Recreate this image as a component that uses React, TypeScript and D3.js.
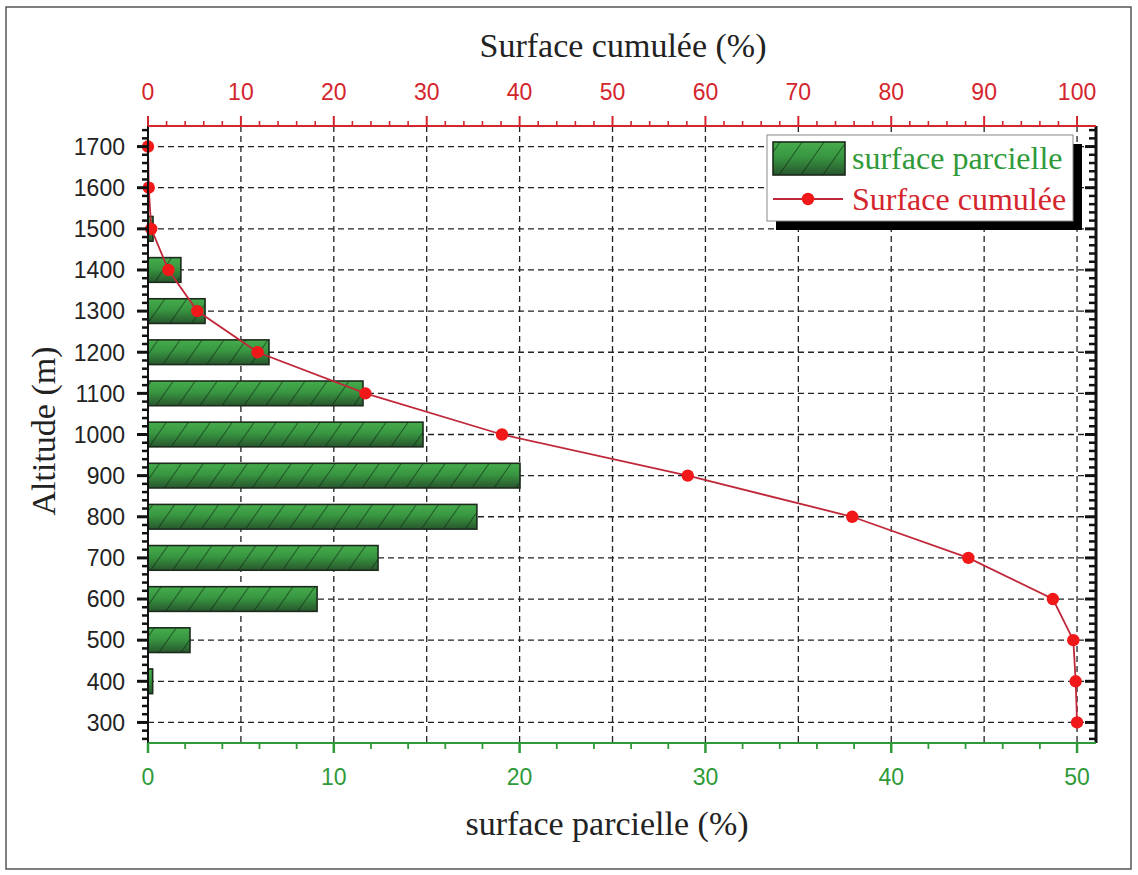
import React from "react";
import * as d3 from "d3";

const altitudes = [300, 400, 500, 600, 700, 800, 900, 1000, 1100, 1200, 1300, 1400, 1500, 1600, 1700];
const partialSurface = [0, 0.25, 2.26, 9.1, 12.38, 17.7, 20.02, 14.8, 11.57, 6.51, 3.07, 1.77, 0.27, 0, 0];
const cumulSurface = [100, 99.85, 99.6, 97.4, 88.3, 75.8, 58.1, 38.1, 23.4, 11.8, 5.3, 2.2, 0.35, 0.08, 0];

const bottomTicks = [0, 10, 20, 30, 40, 50];
const topTicks = [0, 10, 20, 30, 40, 50, 60, 70, 80, 90, 100];
const leftTicks = [300, 400, 500, 600, 700, 800, 900, 1000, 1100, 1200, 1300, 1400, 1500, 1600, 1700];

const W = 1138;
const H = 875;
const L = 148, R = 1096, T = 126, B = 743;

const RED = "#d4242c";
const GREEN = "#2f9a38";
const LINE_RED = "#c0283a";

export default function App() {
  const xB = d3.scaleLinear().domain([0, 51.02]).range([L, R]);
  const xT = d3.scaleLinear().domain([0, 102.04]).range([L, R]);
  const y = d3.scaleLinear().domain([250, 1750]).range([B, T]);

  const topMinor = d3.range(0, 101, 2).filter((v) => v % 10 !== 0);
  const bottomMinor = d3.range(0, 51, 2).filter((v) => v % 10 !== 0);
  const leftMinor = d3.range(260, 1741, 20).filter((v) => v % 100 !== 0);

  const barH = y(0) - y(60);
  const line = d3
    .line<number>()
    .x((_, i) => xT(cumulSurface[i]))
    .y((a) => y(a));

  const sans = "'Liberation Sans', Arial, sans-serif";
  const serif = "'Liberation Serif', 'Times New Roman', serif";

  return (
    <svg width={W} height={H} style={{ position: "absolute", left: 0, top: 0, background: "#fff" }}>
      <defs>
        <linearGradient id="barGrad" x1="0" y1="0" x2="0" y2="1">
          <stop offset="0%" stopColor="#46ad4c" />
          <stop offset="45%" stopColor="#389641" />
          <stop offset="100%" stopColor="#28562d" />
        </linearGradient>
        <pattern id="hatch" patternUnits="userSpaceOnUse" width="18" height="18" patternTransform="rotate(35)">
          <line x1="0" y1="0" x2="0" y2="18" stroke="#0c240f" strokeWidth="1.4" strokeOpacity="0.85" />
        </pattern>
      </defs>
      <rect x={0} y={0} width={W} height={H} fill="#fff" />
      <rect x={6} y={7} width={1125} height={862} fill="none" stroke="#555" strokeWidth={1.5} />

      {/* grid */}
      {leftTicks.map((v) => (
        <line key={"hg" + v} x1={L} x2={R} y1={y(v)} y2={y(v)} stroke="#222" strokeWidth={1.3} strokeDasharray="6,4" />
      ))}
      {topTicks.filter((v) => v > 0).map((v) => (
        <line key={"vg" + v} x1={xT(v)} x2={xT(v)} y1={T} y2={B} stroke="#222" strokeWidth={1.3} strokeDasharray="6,4" />
      ))}

      {/* bars */}
      {altitudes.map((a, i) =>
        partialSurface[i] > 0 ? (
          <g key={"b" + a}>
            <rect x={xB(0)} y={y(a) - barH / 2} width={xB(partialSurface[i]) - xB(0)} height={barH} fill="url(#barGrad)" />
            <rect x={xB(0)} y={y(a) - barH / 2} width={xB(partialSurface[i]) - xB(0)} height={barH} fill="url(#hatch)" stroke="#1c2b1c" strokeWidth={1.6} />
          </g>
        ) : null
      )}

      {/* cumulative line */}
      <path d={line(altitudes) || ""} fill="none" stroke={LINE_RED} strokeWidth={1.8} />
      {altitudes.map((a, i) => (
        <circle key={"c" + a} cx={xT(cumulSurface[i])} cy={y(a)} r={6.2} fill="#f01818" />
      ))}

      {/* left axis */}
      <line x1={L} x2={L} y1={T} y2={B} stroke="#111" strokeWidth={2} />
      {leftTicks.map((v) => (
        <g key={"lt" + v}>
          <line x1={L - 11} x2={L} y1={y(v)} y2={y(v)} stroke="#111" strokeWidth={3} />
          <text x={125} y={y(v)} dy="0.36em" textAnchor="end" fontFamily={sans} fontSize={23} fill="#222">
            {v}
          </text>
        </g>
      ))}
      {leftMinor.map((v) => (
        <line key={"lm" + v} x1={L - 6} x2={L} y1={y(v)} y2={y(v)} stroke="#111" strokeWidth={2.5} />
      ))}

      {/* right axis */}
      <line x1={R} x2={R} y1={T} y2={B} stroke="#111" strokeWidth={3} />
      {leftTicks.map((v) => (
        <line key={"rt" + v} x1={R - 11} x2={R} y1={y(v)} y2={y(v)} stroke="#111" strokeWidth={3} />
      ))}
      {leftMinor.map((v) => (
        <line key={"rm" + v} x1={R - 7} x2={R} y1={y(v)} y2={y(v)} stroke="#111" strokeWidth={2.5} />
      ))}

      {/* top axis */}
      <line x1={L} x2={R} y1={T} y2={T} stroke={RED} strokeWidth={2} />
      {topTicks.map((v) => (
        <g key={"tt" + v}>
          <line x1={xT(v)} x2={xT(v)} y1={T - 10} y2={T} stroke={RED} strokeWidth={2} />
          <text x={xT(v)} y={100} textAnchor="middle" fontFamily={sans} fontSize={23} fill={RED}>
            {v}
          </text>
        </g>
      ))}
      {topMinor.map((v) => (
        <line key={"tm" + v} x1={xT(v)} x2={xT(v)} y1={T - 5} y2={T} stroke={RED} strokeWidth={1.6} />
      ))}

      {/* bottom axis */}
      <line x1={L} x2={R} y1={B} y2={B} stroke={GREEN} strokeWidth={2} />
      {bottomTicks.map((v) => (
        <g key={"bt" + v}>
          <line x1={xB(v)} x2={xB(v)} y1={B} y2={B + 10} stroke={GREEN} strokeWidth={2.5} />
          <text x={xB(v)} y={785} textAnchor="middle" fontFamily={sans} fontSize={23} fill={GREEN}>
            {v}
          </text>
        </g>
      ))}
      {bottomMinor.map((v) => (
        <line key={"bm" + v} x1={xB(v)} x2={xB(v)} y1={B} y2={B + 6} stroke={GREEN} strokeWidth={1.8} />
      ))}

      {/* titles */}
      <text x={623} y={57} textAnchor="middle" fontFamily={serif} fontSize={34} fill="#222">
        Surface cumulée (%)
      </text>
      <text x={607} y={835} textAnchor="middle" fontFamily={serif} fontSize={34} fill="#222">
        surface parcielle (%)
      </text>
      <text transform="translate(55,431) rotate(-90)" textAnchor="middle" fontFamily={serif} fontSize={34} fill="#222">
        Altitude (m)
      </text>

      {/* legend */}
      <rect x={776} y={144} width={306} height={86} fill="#000" />
      <rect x={767} y={135} width={306} height={86} fill="#fff" stroke="#888" strokeWidth={1} />
      <rect x={773} y={142} width={72} height={33} fill="url(#barGrad)" />
      <rect x={773} y={142} width={72} height={33} fill="url(#hatch)" stroke="#1c2b1c" strokeWidth={1.6} />
      <text x={852} y={169} fontFamily={serif} fontSize={32} fill={GREEN}>
        surface parcielle
      </text>
      <line x1={773} x2={843} y1={199} y2={199} stroke={LINE_RED} strokeWidth={1.8} />
      <circle cx={808} cy={199} r={6.2} fill="#f01818" />
      <text x={852} y={210} fontFamily={serif} fontSize={32} fill={RED}>
        Surface cumulée
      </text>
    </svg>
  );
}
